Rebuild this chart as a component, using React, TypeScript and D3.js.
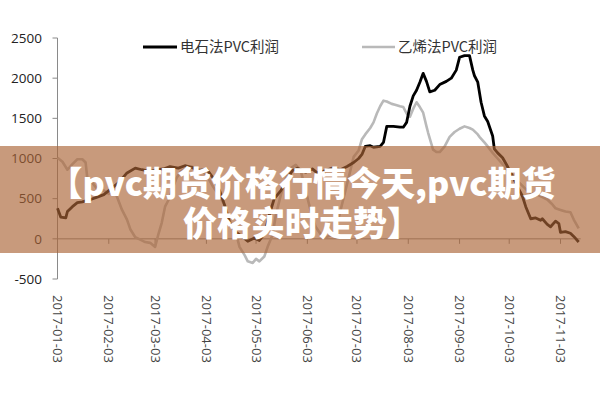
import React from "react";
import * as d3 from "d3";

const blackDates = ["2017-01-03","2017-01-05","2017-01-08","2017-01-09","2017-01-12","2017-01-15","2017-01-18","2017-01-23","2017-01-27","2017-01-31","2017-02-03","2017-02-06","2017-02-09","2017-02-14","2017-02-19","2017-02-23","2017-02-28","2017-03-04","2017-03-08","2017-03-12","2017-03-17","2017-03-21","2017-03-25","2017-03-30","2017-04-03","2017-04-07","2017-04-11","2017-04-14","2017-04-17","2017-04-21","2017-04-25","2017-04-28","2017-05-02","2017-05-05","2017-05-08","2017-05-11","2017-05-14","2017-05-18","2017-05-22","2017-05-25","2017-05-28","2017-06-02","2017-06-06","2017-06-09","2017-06-14","2017-06-18","2017-06-23","2017-06-27","2017-07-01","2017-07-04","2017-07-06","2017-07-08","2017-07-11","2017-07-13","2017-07-17","2017-07-19","2017-07-21","2017-07-25","2017-07-29","2017-07-31","2017-08-02","2017-08-04","2017-08-06","2017-08-08","2017-08-10","2017-08-12","2017-08-14","2017-08-16","2017-08-19","2017-08-22","2017-08-26","2017-08-29","2017-09-01","2017-09-03","2017-09-06","2017-09-09","2017-09-11","2017-09-12","2017-09-14","2017-09-16","2017-09-18","2017-09-20","2017-09-23","2017-09-24","2017-09-26","2017-09-29","2017-10-02","2017-10-05","2017-10-08","2017-10-11","2017-10-13","2017-10-16","2017-10-19","2017-10-22","2017-10-23","2017-10-26","2017-10-28","2017-10-31","2017-11-02","2017-11-03","2017-11-06","2017-11-09","2017-11-11","2017-11-14"];
const blackValues = [380,270,260,340,400,450,460,490,520,550,600,650,700,820,880,860,840,860,870,900,880,910,890,850,870,760,600,420,200,80,20,-30,10,-20,60,300,500,600,750,850,880,830,870,820,850,880,860,900,950,1000,1050,1150,1160,1140,1150,1200,1400,1400,1390,1390,1450,1650,1780,1850,1950,2060,1960,1830,1850,1920,1960,2000,2100,2260,2280,2280,2100,2030,1950,1700,1530,1460,1280,1120,1070,1010,900,780,650,530,400,250,260,230,250,180,150,220,190,80,90,70,30,-40];

const grayDates = ["2017-01-03","2017-01-06","2017-01-09","2017-01-12","2017-01-15","2017-01-18","2017-01-20","2017-01-21","2017-01-24","2017-01-27","2017-01-31","2017-02-03","2017-02-06","2017-02-08","2017-02-11","2017-02-14","2017-02-16","2017-02-19","2017-02-22","2017-02-25","2017-02-28","2017-03-03","2017-03-05","2017-03-07","2017-03-09","2017-03-11","2017-03-14","2017-03-16","2017-03-19","2017-03-22","2017-03-25","2017-03-28","2017-03-31","2017-04-04","2017-04-07","2017-04-11","2017-04-14","2017-04-16","2017-04-18","2017-04-21","2017-04-23","2017-04-26","2017-04-28","2017-05-01","2017-05-03","2017-05-05","2017-05-08","2017-05-10","2017-05-13","2017-05-15","2017-05-18","2017-05-21","2017-05-24","2017-05-27","2017-05-30","2017-06-02","2017-06-05","2017-06-08","2017-06-11","2017-06-14","2017-06-17","2017-06-20","2017-06-23","2017-06-26","2017-06-29","2017-07-01","2017-07-04","2017-07-06","2017-07-08","2017-07-11","2017-07-13","2017-07-15","2017-07-17","2017-07-19","2017-07-21","2017-07-24","2017-07-26","2017-07-29","2017-07-31","2017-08-02","2017-08-04","2017-08-06","2017-08-08","2017-08-10","2017-08-12","2017-08-14","2017-08-15","2017-08-17","2017-08-18","2017-08-20","2017-08-22","2017-08-25","2017-08-28","2017-08-31","2017-09-03","2017-09-06","2017-09-09","2017-09-11","2017-09-14","2017-09-15","2017-09-18","2017-09-20","2017-09-23","2017-09-26","2017-09-29","2017-10-02","2017-10-05","2017-10-08","2017-10-11","2017-10-14","2017-10-17","2017-10-20","2017-10-23","2017-10-26","2017-10-29","2017-10-31","2017-11-03","2017-11-06","2017-11-09","2017-11-11","2017-11-14"];
const grayValues = [1010,960,860,930,990,990,950,760,700,620,600,560,620,520,360,240,120,20,-10,-40,-50,-100,60,200,400,480,650,760,850,880,900,870,860,760,650,530,420,300,180,60,-100,-200,-280,-300,-250,-280,-220,-100,50,300,550,750,880,920,850,600,350,150,60,20,40,100,350,600,850,1020,1100,1240,1300,1380,1450,1560,1650,1720,1710,1680,1670,1650,1640,1560,1520,1620,1700,1640,1570,1400,1320,1180,1110,1080,1080,1150,1270,1330,1370,1400,1380,1360,1300,1270,1200,1150,1070,1000,930,850,800,720,660,600,560,550,520,490,430,380,360,340,330,240,130];

const yTicks = [-500, 0, 500, 1000, 1500, 2000, 2500];
const xTickLabels = ["2017-01-03","2017-02-03","2017-03-03","2017-04-03","2017-05-03","2017-06-03","2017-07-03","2017-08-03","2017-09-03","2017-10-03","2017-11-03"];
const seriesNames = ["电石法PVC利润", "乙烯法PVC利润"];
const bannerLines = ["【pvc期货价格行情今天,pvc期货", "价格实时走势】"];

const parse = d3.timeParse("%Y-%m-%d");

export default function App() {
  const W = 600, H = 400;
  const x = d3.scaleTime()
    .domain([parse("2017-01-03") as Date, parse("2017-11-03") as Date])
    .range([57.5, 560.5]);
  const y = d3.scaleLinear().domain([-500, 2500]).range([279, 38]);
  const line = d3.line<[Date, number]>()
    .x((d) => x(d[0]))
    .y((d) => y(d[1]));
  const black: [Date, number][] = blackDates.map((d, i) => [parse(d) as Date, blackValues[i]]);
  const gray: [Date, number][] = grayDates.map((d, i) => [parse(d) as Date, grayValues[i]]);
  const axisFont = "'Open Sans', 'Noto Sans', sans-serif";
  const cjkFont = "'Noto Sans CJK SC', 'Noto Sans', sans-serif";
  const x0 = x(parse("2017-01-03") as Date);
  return (
    <svg width={W} height={H} style={{ position: "absolute", left: 0, top: 0, background: "#fff" }}>
      <rect x={0} y={0} width={W} height={H} fill="#fff" />
      {/* y axis */}
      <line x1={x0} x2={x0} y1={y(2500)} y2={y(-500)} stroke="#8a8a8a" strokeWidth={1} />
      {yTicks.map((t) => (
        <g key={t}>
          <line x1={x0 - 5} x2={x0} y1={y(t)} y2={y(t)} stroke="#8a8a8a" strokeWidth={1} />
          <text x={42} y={y(t)} dy="0.35em" textAnchor="end" fontSize={13.5} fill="#222" fontFamily={axisFont}>{t}</text>
        </g>
      ))}
      {/* zero axis */}
      <line x1={x0} x2={x(parse("2017-11-14") as Date) + 2} y1={y(0)} y2={y(0)} stroke="#8a8a8a" strokeWidth={1} />
      {xTickLabels.map((l) => {
        const xp = x(parse(l) as Date);
        return (
          <g key={l}>
            <line x1={xp} x2={xp} y1={y(0)} y2={y(0) + 5} stroke="#8a8a8a" strokeWidth={1} />
            <text transform={`translate(${xp - 4.5},295) rotate(90)`} fontSize={13} fill="#444" fontFamily={axisFont}>{l}</text>
          </g>
        );
      })}
      {/* series */}
      <path d={line(gray) || ""} fill="none" stroke="#b9b9b9" strokeWidth={2.6} strokeLinejoin="round" />
      <path d={line(black) || ""} fill="none" stroke="#000" strokeWidth={2.8} strokeLinejoin="round" />
      {/* legend */}
      <line x1={143} x2={177} y1={47} y2={47} stroke="#000" strokeWidth={2.8} />
      <text x={180} y={47} dy="0.35em" fontSize={14.5} fill="#333" fontFamily={cjkFont}>{seriesNames[0]}</text>
      <line x1={362} x2={395} y1={47} y2={47} stroke="#b9b9b9" strokeWidth={2.6} />
      <text x={398} y={47} dy="0.35em" fontSize={14.5} fill="#333" fontFamily={cjkFont}>{seriesNames[1]}</text>
      {/* banner */}
      <rect x={0} y={146} width={W} height={107} fill="rgb(170,100,54)" fillOpacity={0.65} />
      <text x={302} y={196} textAnchor="middle" fontSize={34} fontWeight={900} fill="#fff" fontFamily={cjkFont}>{bannerLines[0]}</text>
      <text x={302} y={236} textAnchor="middle" fontSize={34} fontWeight={900} fill="#fff" fontFamily={cjkFont}>{bannerLines[1]}</text>
    </svg>
  );
}
